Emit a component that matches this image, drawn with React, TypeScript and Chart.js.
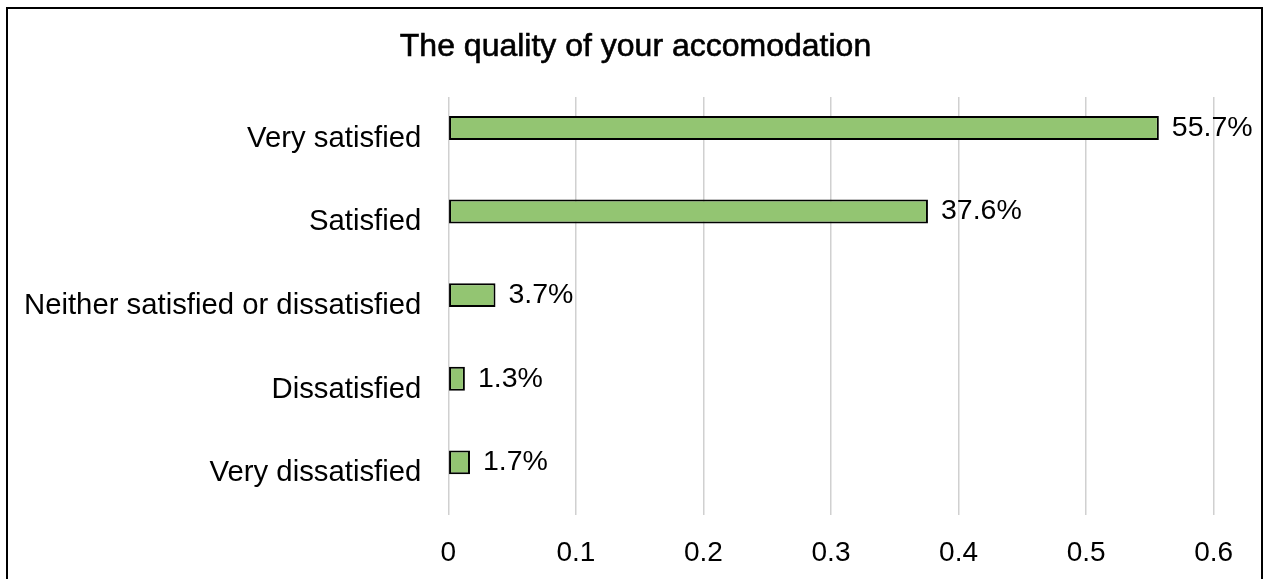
import React, { useEffect, useRef } from "react";
import { Chart, registerables } from "chart.js";

Chart.register(...registerables);

const titleText = "The quality of your accomodation";
const categories = [
  "Very satisfied",
  "Satisfied",
  "Neither satisfied or dissatisfied",
  "Dissatisfied",
  "Very dissatisfied",
];
const shareValues = [0.557, 0.376, 0.037, 0.013, 0.017];
const hiddenSeries = [null, null, null, null, null];
const xTickMin = 0;
const xTickMax = 0.6;
const xTickStep = 0.1;

const FONT = "'Liberation Sans', Arial, sans-serif";

const dataLabelPlugin = {
  id: "dataLabels",
  afterDatasetsDraw(chart: any) {
    const meta = chart.getDatasetMeta(0);
    const ctx = chart.ctx;
    ctx.save();
    ctx.font = `28.5px ${FONT}`;
    ctx.fillStyle = "#000000";
    ctx.textAlign = "left";
    ctx.textBaseline = "middle";
    meta.data.forEach((bar: any, i: number) => {
      const v = shareValues[i];
      ctx.fillText((v * 100).toFixed(1) + "%", bar.x + 13, bar.y);
    });
    ctx.restore();
  },
};

const centeredTitlePlugin = {
  id: "centeredTitle",
  afterDraw(chart: any) {
    const ctx = chart.ctx;
    ctx.save();
    ctx.font = `32px ${FONT}`;
    ctx.fillStyle = "#000000";
    ctx.strokeStyle = "#000000";
    ctx.lineWidth = 0.6;
    ctx.textAlign = "center";
    ctx.textBaseline = "middle";
    const x = chart.width / 2 + 1;
    const y = 38;
    ctx.fillText(titleText, x, y);
    ctx.strokeText(titleText, x, y);
    ctx.restore();
  },
};

export default function App() {
  const ref = useRef<HTMLCanvasElement | null>(null);

  useEffect(() => {
    if (!ref.current) return;
    const chart = new Chart(ref.current, {
      type: "bar",
      data: {
        labels: categories,
        datasets: [
          {
            data: shareValues,
            backgroundColor: "#93C572",
            borderColor: "#000000",
            borderWidth: 2,
            borderSkipped: false,
            barPercentage: 1.1,
            categoryPercentage: 0.52,
          },
          {
            data: hiddenSeries as any,
            backgroundColor: "rgba(0,0,0,0)",
            borderWidth: 0,
            barPercentage: 1.1,
            categoryPercentage: 0.52,
          },
        ],
      },
      options: {
        indexAxis: "y",
        animation: false,
        responsive: false,
        maintainAspectRatio: false,
        layout: { padding: { left: 0, right: 47.3, top: 88, bottom: 0 } },
        plugins: {
          legend: { display: false },
          tooltip: { enabled: false },
          title: { display: false },
        },
        scales: {
          x: {
            type: "linear",
            min: xTickMin,
            max: xTickMax,
            ticks: {
              stepSize: xTickStep,
              color: "#000000",
              font: { family: FONT, size: 28 },
              padding: 21,
            },
            grid: {
              color: "#d0d0d0",
              lineWidth: 1.5,
              drawTicks: false,
            },
            border: { display: false },
            afterFit: (scale: any) => {
              scale.height = 70;
            },
          },
          y: {
            ticks: {
              color: "#000000",
              font: { family: FONT, size: 29.3 },
              padding: 27,
            },
            grid: { display: false, drawTicks: false },
            border: { display: false },
            afterFit: (scale: any) => {
              scale.width = 440.3;
            },
          },
        },
      },
      plugins: [dataLabelPlugin, centeredTitlePlugin],
    });
    return () => chart.destroy();
  }, []);

  return (
    <div
      style={{
        position: "fixed",
        left: 6,
        top: 7,
        width: 1257,
        height: 580,
        border: "2px solid #000",
        boxSizing: "border-box",
        background: "#fff",
      }}
    >
      <canvas ref={ref} width={1253} height={576} style={{ display: "block" }} />
    </div>
  );
}
